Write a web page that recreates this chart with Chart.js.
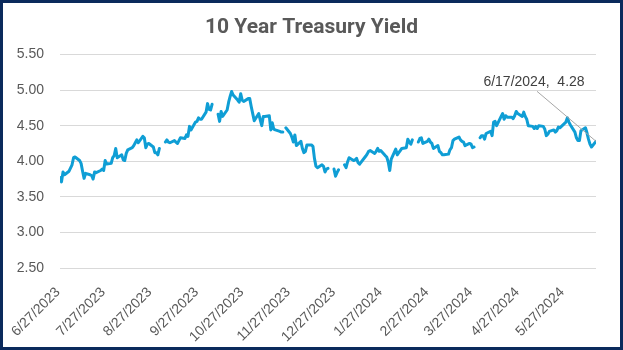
<!DOCTYPE html>
<html>
<head>
<meta charset="utf-8">
<title>10 Year Treasury Yield</title>
<script src="https://cdn.jsdelivr.net/npm/chart.js@4.4.1/dist/chart.umd.min.js"></script>
<style>
  html, body { margin: 0; padding: 0; background: #fff; }
  .frame {
    width: 623px;
    height: 350px;
    box-sizing: border-box;
    border: 3px solid #0b2a5c;
    background: #fff;
  }
  .frame canvas { display: block; }
</style>
</head>
<body>
<div class="frame">
  <canvas id="yieldChart" width="617" height="344"></canvas>
</div>
<script>
// one row per weekday from the first to the last date, except the closed days below;
// null = row present but no yield published (line breaks there)
const firstDate = "2023-06-27";
const lastDate = "2024-06-17";
const closedDays = ["2023-07-04", "2024-01-15", "2024-05-27"];

const yieldsJun23 = [3.77, 3.71, 3.85, 3.81];
const yieldsJul23 = [3.86, 3.95, 4.05, 4.06, 4.01, 3.97, 3.86, 3.76, 3.83, 3.81, 3.80, 3.75, 3.85, 3.84, 3.87, 3.89, 3.87, 4.01, 3.96, 3.97];
const yieldsAug23 = [4.05, 4.08, 4.18, 4.05, 4.09, 4.02, 4.01, 4.11, 4.16, 4.19, 4.22, 4.26, 4.30, 4.26, 4.35, 4.33, 4.19, 4.24, 4.25, 4.20, 4.12, 4.12, 4.09];
const yieldsSep23 = [4.18, null, 4.27, 4.30, 4.27, 4.26, 4.29, 4.27, 4.25, 4.29, 4.33, 4.32, 4.37, 4.35, 4.49, 4.44, 4.55, 4.56, 4.61, 4.59, 4.59];
const yieldsOct23 = [4.69, 4.81, 4.73, 4.72, 4.80, null, 4.66, 4.56, 4.70, 4.63, 4.72, 4.83, 4.91, 4.98, 4.93, 4.86, 4.83, 4.95, 4.86, 4.84, 4.88, 4.88];
const yieldsNov23 = [4.77, 4.67, 4.57, 4.67, 4.58, 4.50, 4.63, 4.63, 4.64, 4.44, 4.54, 4.45, 4.44, 4.42, 4.41, 4.41, null, 4.47, 4.39, 4.34, 4.27, 4.37];
const yieldsDec23 = [4.22, 4.28, 4.18, 4.12, 4.14, 4.23, 4.23, 4.21, 4.04, 3.93, 3.91, 3.95, 3.93, 3.85, 3.89, 3.90, null, 3.89, 3.79, 3.84, 3.88];
const yieldsJan24 = [null, 3.95, 3.91, 3.99, 4.05, 4.01, 4.02, 4.04, 3.98, 3.96, 4.07, 4.10, 4.14, 4.15, 4.11, 4.14, 4.18, 4.14, 4.15, 4.08, 4.06, 3.99];
const yieldsFeb24 = [3.87, 4.03, 4.17, 4.09, 4.12, 4.15, 4.18, 4.19, 4.31, 4.27, 4.24, 4.30, null, 4.27, 4.32, 4.33, 4.25, 4.28, 4.31, 4.27, 4.25];
const yieldsMar24 = [4.18, 4.22, 4.14, 4.12, 4.09, 4.09, 4.10, 4.16, 4.19, 4.29, 4.31, 4.34, 4.30, 4.28, 4.27, 4.22, 4.25, 4.24, 4.19, 4.20, null];
const yieldsApr24 = [4.33, 4.36, 4.36, 4.31, 4.39, 4.42, 4.36, 4.55, 4.56, 4.50, 4.63, 4.67, 4.59, 4.64, 4.62, 4.62, 4.60, 4.64, 4.70, 4.67, 4.63, 4.69];
const yieldsMay24 = [4.63, 4.59, 4.50, 4.49, 4.46, 4.49, 4.46, 4.50, 4.49, 4.45, 4.36, 4.38, 4.42, 4.44, 4.41, 4.43, 4.48, 4.47, 4.55, 4.61, 4.55, 4.51];
const yieldsJun24 = [4.41, 4.33, 4.29, 4.29, 4.43, 4.47, 4.40, 4.31, 4.24, 4.20, 4.28];

// x-axis tick dates (monthly) and y-axis ticks
const tickDates = ["2023-06-27", "2023-07-27", "2023-08-27", "2023-09-27", "2023-10-27", "2023-11-27",
                   "2023-12-27", "2024-01-27", "2024-02-27", "2024-03-27", "2024-04-27", "2024-05-27"];
const yTicks = [2.50, 3.00, 3.50, 4.00, 4.50, 5.00, 5.50];

const yields = [].concat(yieldsJun23, yieldsJul23, yieldsAug23, yieldsSep23, yieldsOct23, yieldsNov23,
                         yieldsDec23, yieldsJan24, yieldsFeb24, yieldsMar24, yieldsApr24, yieldsMay24, yieldsJun24);

const DAY = 86400000;
const t0 = Date.parse(firstDate + "T00:00:00Z");
const dayOf = (iso) => Math.round((Date.parse(iso + "T00:00:00Z") - t0) / DAY);
const fmtDate = (d) => {
  const dt = new Date(t0 + d * DAY);
  return (dt.getUTCMonth() + 1) + "/" + dt.getUTCDate() + "/" + dt.getUTCFullYear();
};

// weekday offsets from the first date
const skipDays = closedDays.map(dayOf);
const tradingDays = [];
for (let d = 0; d <= dayOf(lastDate); d++) {
  const wd = new Date(t0 + d * DAY).getUTCDay();
  if (wd !== 0 && wd !== 6 && !skipDays.includes(d)) tradingDays.push(d);
}
if (tradingDays.length !== yields.length) {
  console.warn("day count mismatch", tradingDays.length, yields.length);
}

const points = tradingDays.map((d, i) => ({ x: d, y: yields[i] }));
const tickDays = tickDates.map(dayOf);

const textGrey = "#595959";
const lineBlue = "#0F9ED5";

// the right-hand layout padding shifts the title box; stretch it back over the full canvas
const centreTitle = {
  id: "centreTitle",
  afterLayout(chart) {
    const t = chart.titleBlock;
    if (!t) return;
    t.left = 0;
    t.right = chart.width;
    t.width = chart.width;
  }
};

// callout for the latest reading, with a leader line to the point
const lastPointLabel = {
  id: "lastPointLabel",
  afterDatasetsDraw(chart) {
    const meta = chart.getDatasetMeta(0);
    const idx = points.length - 1;
    const el = meta.data[idx];
    if (!el) return;
    const px = el.x, py = el.y;
    const lx = px - 59, ly = py - 50;
    const ctx = chart.ctx;
    ctx.save();
    ctx.strokeStyle = "#a6a6a6";
    ctx.lineWidth = 1;
    ctx.beginPath();
    ctx.moveTo(lx, ly);
    ctx.lineTo(px, py);
    ctx.stroke();
    ctx.font = "14px 'Liberation Sans', Arial, sans-serif";
    ctx.fillStyle = "#404040";
    ctx.textAlign = "center";
    ctx.textBaseline = "alphabetic";
    ctx.fillText(fmtDate(points[idx].x) + ",  " + points[idx].y.toFixed(2), lx - 3, ly - 5);
    ctx.restore();
  }
};

new Chart(document.getElementById("yieldChart"), {
  type: "line",
  data: {
    datasets: [{
      label: "10 Year Treasury Yield",
      data: points,
      borderColor: lineBlue,
      borderWidth: 3,
      pointRadius: 0,
      pointHoverRadius: 0,
      tension: 0,
      spanGaps: false,
      borderJoinStyle: "round",
      borderCapStyle: "round"
    }]
  },
  options: {
    responsive: false,
    animation: false,
    layout: { padding: { left: 0, right: 24, top: 0, bottom: 0 } },
    plugins: {
      legend: { display: false },
      tooltip: { enabled: false },
      title: {
        display: true,
        text: "10 Year Treasury Yield",
        color: textGrey,
        font: { family: "Roboto", weight: "bold", size: 21, lineHeight: 1.2 },
        padding: { top: 12, bottom: 14.3 }
      }
    },
    scales: {
      x: {
        type: "linear",
        min: 0,
        max: dayOf(lastDate),
        grid: { display: false },
        border: { display: false },
        afterBuildTicks(scale) {
          scale.ticks = tickDays.map((v) => ({ value: v }));
        },
        afterFit(scale) { scale.height = 79; },
        ticks: {
          autoSkip: false,
          maxRotation: 45,
          minRotation: 45,
          padding: 8,
          labelOffset: -2,
          color: textGrey,
          font: { family: "'Liberation Sans', Arial, sans-serif", size: 14 },
          callback: (v) => fmtDate(v)
        }
      },
      y: {
        min: yTicks[0],
        max: yTicks[yTicks.length - 1],
        afterBuildTicks(scale) {
          scale.ticks = yTicks.map((v) => ({ value: v }));
        },
        afterFit(scale) { scale.width = 57; },
        grid: { color: "#d9d9d9", lineWidth: 1, drawTicks: false },
        border: { display: false },
        ticks: {
          padding: 16,
          color: textGrey,
          font: { family: "'Liberation Sans', Arial, sans-serif", size: 14 },
          callback: (v) => Number(v).toFixed(2)
        }
      }
    }
  },
  plugins: [centreTitle, lastPointLabel]
});
</script>
</body>
</html>
